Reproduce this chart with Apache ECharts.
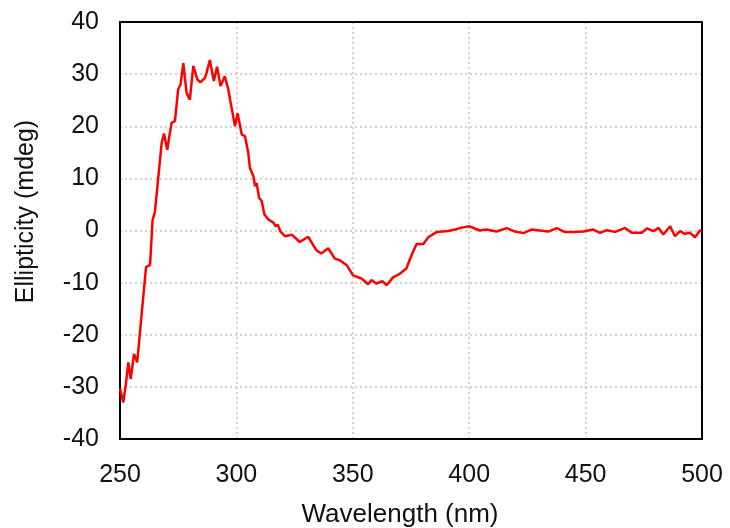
<!DOCTYPE html>
<html>
<head>
<meta charset="utf-8">
<script src="https://cdn.jsdelivr.net/npm/echarts@6/dist/echarts.min.js"></script>
<style>
  html, body { margin: 0; padding: 0; background: #fff; }
  #chart { width: 730px; height: 528px; }
</style>
</head>
<body>
<div id="chart"></div>
<script>
// wavelength (nm) and ellipticity (mdeg)
const wavelength = [
  250, 251.4, 252.5, 253.6, 254.6, 256, 257.4, 259.3, 261.2, 262.9, 264,
  265, 266.5, 267.9, 268.9, 270.3, 271.2, 272.2, 273.6, 275, 276,
  277.2, 278.6, 280, 281.5, 283.2, 284.5, 286.5, 287.2, 288.6, 290.3,
  291.7, 293.2, 295, 296.5, 297.3, 299.4, 300.5, 302.3, 303.7, 305.1,
  305.8, 307.3, 308, 308.7, 309.7, 310.9, 312, 313.7, 315.9, 316.9,
  317.8, 318.8, 320.9, 323.8, 327.2, 330.8, 334.4,
  336.5, 339.4, 342.3, 344.4, 347.3, 350.1, 353.7, 356.6, 358, 360.2,
  362.7, 364.5, 367.3, 370.2, 373, 375, 377.4, 380.3, 382.4, 386,
  391, 393.9, 397.3, 400.2, 404.5, 407.4, 411.7, 416.1, 419.7, 423.3,
  426.9, 430.4, 434, 437.6, 441.2, 444.7, 449, 453.1, 456.2, 459.1,
  462.7, 464.8, 467, 469.8, 474.1, 476.3, 479.1, 481.3, 483.4, 486.3,
  488.4, 490.6, 492.7, 494.9, 497, 499.2, 500
];
const ellipticity = [
  -30.3, -33.0, -29.5, -25.3, -28.5, -23.7, -25.3, -16.0, -7.0, -6.6, 2.0,
  3.6, 10.4, 16.8, 18.6, 15.5, 18.1, 20.7, 21.0, 27.1, 28.0,
  32.1, 26.4, 25.1, 31.6, 29.0, 28.4, 29.3, 30.3, 32.7, 28.7,
  31.4, 27.7, 29.6, 27.1, 25.1, 20.0, 22.5, 18.4, 18.1, 14.9,
  12.0, 10.4, 8.5, 9.1, 6.3, 5.6, 3.1, 2.1, 1.5, 0.8,
  1.1, -0.1, -1.1, -0.8, -2.2, -1.2, -3.8,
  -4.4, -3.4, -5.4, -5.7, -6.6, -8.6, -9.2, -10.3, -9.5, -10.2,
  -9.7, -10.5, -9.0, -8.3, -7.3, -5.0, -2.6, -2.6, -1.3, -0.3,
  -0.1, 0.2, 0.6, 0.8, 0, 0.2, -0.2, 0.45, -0.2, -0.5,
  0.2, 0, -0.2, 0.45, -0.3, -0.3, -0.2, 0.2, -0.45, 0.06,
  -0.26, 0.13, 0.5, -0.45, -0.45, 0.4, -0.13, 0.5, -0.77, 0.83,
  -1.1, -0.13, -0.64, -0.45, -1.3, 0.06, -0.2
];
const xTicks = { min: 250, max: 500, interval: 50 };
const yTicks = { min: -40, max: 40, interval: 10 };

const chart = echarts.init(document.getElementById('chart'));
const font = 'Liberation Sans, Arial, sans-serif';
const dotted = { lineStyle: { color: '#c4c4c4', type: [2, 3], width: 1.5 } };
const frameLine = { show: true, onZero: false, lineStyle: { color: '#000', width: 2 } };

const option = {
  animation: false,
  grid: { left: 120, right: 28, top: 22, bottom: 89, outerBoundsMode: 'none' },
  xAxis: [
    {
      type: 'value',
      min: xTicks.min, max: xTicks.max, interval: xTicks.interval,
      name: 'Wavelength (nm)',
      nameLocation: 'middle',
      nameGap: 63,
      nameTextStyle: { fontFamily: font, fontSize: 26, color: '#111', padding: [0, 22, 0, 0] },
      axisLine: frameLine,
      axisTick: { show: false },
      axisLabel: { fontFamily: font, fontSize: 25, color: '#111', margin: 24 },
      splitLine: dotted
    },
    {
      // top edge of the frame
      type: 'value', position: 'top',
      min: xTicks.min, max: xTicks.max, interval: xTicks.interval,
      axisLine: frameLine, axisTick: { show: false },
      axisLabel: { show: false }, splitLine: { show: false }
    }
  ],
  yAxis: [
    {
      type: 'value',
      min: yTicks.min, max: yTicks.max, interval: yTicks.interval,
      name: 'Ellipticity (mdeg)',
      nameLocation: 'middle',
      nameRotate: 90,
      nameGap: 81,
      nameTextStyle: { fontFamily: font, fontSize: 25, color: '#111', padding: [0, 0, 0, 38] },
      axisLine: frameLine,
      axisTick: { show: false },
      axisLabel: { fontFamily: font, fontSize: 25, color: '#111', margin: 21, padding: [7, 0, 0, 0] },
      splitLine: dotted
    },
    {
      // right edge of the frame
      type: 'value', position: 'right',
      min: yTicks.min, max: yTicks.max, interval: yTicks.interval,
      axisLine: frameLine, axisTick: { show: false },
      axisLabel: { show: false }, splitLine: { show: false }
    }
  ],
  series: [
    {
      type: 'line',
      xAxisIndex: 0,
      yAxisIndex: 0,
      data: wavelength.map((w, i) => [w, ellipticity[i]]),
      showSymbol: false,
      lineStyle: { color: '#ff0000', width: 2.5 },
      z: 5
    }
  ]
};
chart.setOption(option);
</script>
</body>
</html>
